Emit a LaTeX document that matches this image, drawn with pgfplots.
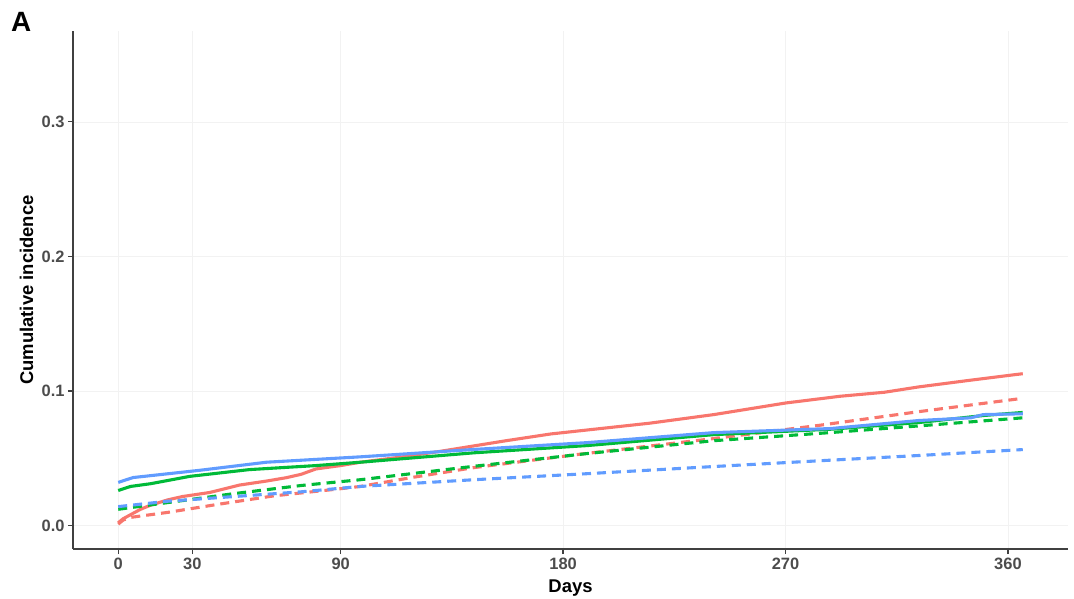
\documentclass[border=0pt]{standalone}
\usepackage{pgfplots}
\pgfplotsset{compat=1.18}
\usepackage{fontspec}
\setmainfont{Liberation Sans}
\definecolor{gred}{HTML}{F8766D}
\definecolor{ggreen}{HTML}{00BA38}
\definecolor{gblue}{HTML}{619CFF}
\begin{document}
\begin{tikzpicture}
\useasboundingbox (-73bp,-50bp) rectangle (1001bp,549bp);
\begin{axis}[
  scale only axis, width=995bp, height=518bp,
  xmin=-18.3, xmax=384.3, ymin=-0.0175, ymax=0.3675,
  axis lines*=left,
  axis line style={-, line width=1.3bp, color=black!75},
  tick align=outside, major tick length=5bp,
  tick style={line width=1.2bp, color=black!75},
  grid=major, major grid style={line width=0.6bp, color=black!5},
  xtick={0,30,90,180,270,360},
  ytick={0,0.1,0.2,0.3}, yticklabels={0.0,0.1,0.2,0.3},
  /pgf/number format/assume math mode=true,
  ticklabel style={font=\fontsize{16.5}{18}\selectfont\bfseries, text=black!70},
  xlabel={Days}, ylabel={Cumulative incidence},
  label style={font=\fontsize{18.5}{20}\selectfont\bfseries},
  x label style={at={(axis description cs:0.5,0)}, anchor=north, inner sep=0pt, yshift=-31bp},
  y label style={at={(axis description cs:0,0.5)}, anchor=center, yshift=46.5bp},
  every axis plot/.append style={line width=3.1bp, no markers},
]
\addplot[gred] coordinates {(0,0.002)(2,0.005)(5,0.008)(9,0.012)(13,0.015)(20,0.019)(26,0.0215)(37,0.0245)(49,0.030)(60,0.033)(68,0.0355)(74,0.038)(80,0.042)(90,0.0445)(98,0.047)(115,0.051)(130,0.055)(157,0.063)(175,0.068)(195,0.072)(215,0.076)(241,0.0824)(270,0.091)(292,0.096)(310,0.099)(324,0.103)(345,0.108)(366,0.1128)};
\addplot[gred, dash pattern=on 9bp off 6bp] coordinates {(0,0.001)(2,0.004)(5,0.006)(20,0.0097)(40,0.0156)(63,0.022)(87,0.0267)(98,0.029)(120,0.036)(144,0.043)(187,0.053)(241,0.0646)(284,0.0745)(324,0.0846)(366,0.0945)};
\addplot[ggreen] coordinates {(0,0.026)(5,0.029)(13,0.031)(29,0.0365)(53,0.0415)(80,0.0445)(98,0.047)(144,0.054)(190,0.0594)(241,0.0675)(288,0.0715)(324,0.0765)(350,0.0817)(366,0.084)};
\addplot[ggreen, dash pattern=on 9bp off 6bp] coordinates {(0,0.012)(20,0.017)(47,0.0237)(74,0.0297)(98,0.034)(144,0.044)(190,0.0535)(241,0.063)(288,0.069)(324,0.074)(366,0.080)};
\addplot[gblue] coordinates {(0,0.032)(6,0.0356)(33,0.041)(60,0.047)(98,0.051)(144,0.0565)(190,0.0616)(241,0.069)(288,0.072)(324,0.078)(345,0.080)(350,0.0824)(366,0.083)};
\addplot[gblue, dash pattern=on 9bp off 6bp] coordinates {(0,0.014)(20,0.018)(47,0.0215)(74,0.025)(98,0.029)(144,0.034)(190,0.0385)(241,0.0438)(288,0.0485)(324,0.052)(366,0.0564)};
\end{axis}
\node[anchor=north west, inner sep=0pt, font=\fontsize{28}{30}\selectfont\bfseries] at (-62bp,537bp) {A};
\end{tikzpicture}
\end{document}
